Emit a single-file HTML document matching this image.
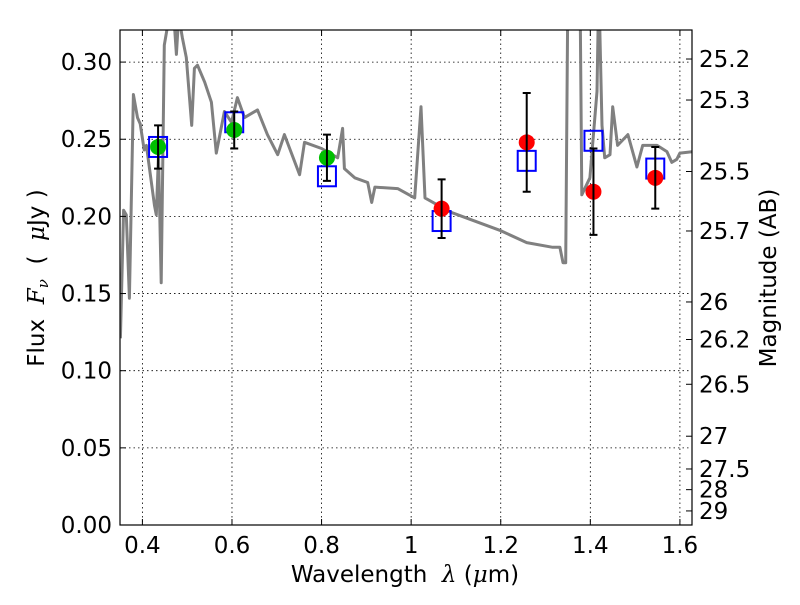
<!DOCTYPE html>
<html><head><meta charset="utf-8"><style>
body{margin:0;background:#fff}
svg text{font-family:"DejaVu Sans","Liberation Sans",sans-serif;fill:#000}
</style></head><body>
<svg id="chart" width="800" height="600" viewBox="0 0 800 600" xmlns="http://www.w3.org/2000/svg">
<g id="grid"></g>
<g id="spec"></g>
<g id="marks"></g>
<g id="axes"></g>
<text x="405" y="582" font-size="23" text-anchor="middle">Wavelength&#160;&#160;<tspan font-style="italic" font-family="DejaVu Serif">λ</tspan> (<tspan font-style="italic" font-family="DejaVu Serif">μ</tspan>m)</text>
<text transform="translate(44,278) rotate(-90)" font-size="23" text-anchor="middle">Flux&#160;&#160;<tspan font-style="italic" font-family="DejaVu Serif">F<tspan font-size="15" dy="4">ν</tspan></tspan><tspan dy="-4">&#160;&#160;(&#160;&#160;</tspan><tspan font-style="italic" font-family="DejaVu Serif">μ</tspan>Jy )</text>
<text transform="translate(776,278) rotate(-90)" font-size="23" text-anchor="middle">Magnitude (AB)</text>
</svg>
<script>
const specLam=[0.351,0.358,0.364,0.371,0.380,0.389,0.395,0.404,0.409,0.427,0.431,0.436,0.442,0.449,0.460,0.470,0.476,0.481,0.489,0.498,0.510,0.516,0.523,0.539,0.554,0.565,0.583,0.599,0.612,0.628,0.657,0.679,0.702,0.717,0.751,0.762,0.800,0.836,0.847,0.851,0.874,0.903,0.912,0.919,0.970,1.008,1.022,1.031,1.086,1.198,1.258,1.316,1.332,1.339,1.345,1.350,1.377,1.381,1.399,1.415,1.419,1.426,1.432,1.444,1.450,1.461,1.484,1.504,1.517,1.549,1.571,1.582,1.593,1.600,1.629];
const specFlux=[0.121,0.204,0.201,0.147,0.279,0.264,0.260,0.243,0.246,0.207,0.201,0.240,0.157,0.311,0.330,0.330,0.305,0.330,0.316,0.303,0.259,0.296,0.298,0.287,0.274,0.241,0.268,0.261,0.277,0.264,0.269,0.253,0.240,0.253,0.227,0.248,0.244,0.238,0.257,0.231,0.225,0.222,0.209,0.219,0.218,0.212,0.271,0.212,0.203,0.191,0.183,0.180,0.180,0.170,0.170,0.350,0.350,0.214,0.225,0.281,0.350,0.259,0.238,0.240,0.271,0.246,0.253,0.232,0.246,0.246,0.242,0.235,0.237,0.241,0.242];
const obsLam=[0.435,0.605,0.812,1.068,1.258,1.407,1.545];
const obsFlux=[0.245,0.256,0.238,0.205,0.248,0.216,0.225];
const obsErr=[0.014,0.012,0.015,0.019,0.032,0.028,0.020];
const obsColor=['#00bf00','#00bf00','#00bf00','#ff0000','#ff0000','#ff0000','#ff0000'];
const modelFlux=[0.245,0.261,0.226,0.197,0.236,0.249,0.231];
const xTicks=[0.4,0.6,0.8,1,1.2,1.4,1.6];
const xTickLabels=['0.4','0.6','0.8','1','1.2','1.4','1.6'];
const yTicks=[0,0.05,0.10,0.15,0.20,0.25,0.30];
const yTickLabels=['0.00','0.05','0.10','0.15','0.20','0.25','0.30'];
const magTicks=[25.2,25.3,25.5,25.7,26,26.2,26.5,27,27.5,28,29];
const magTickLabels=['25.2','25.3','25.5','25.7','26','26.2','26.5','27','27.5','28','29'];

const L=120,R=692,T=30,B=525,xMin=0.35,xMax=1.627,yMin=0,yMax=0.3208;
const NS='http://www.w3.org/2000/svg';
function X(v){return L+(v-xMin)/(xMax-xMin)*(R-L);}
function Y(v){return B-(v-yMin)/(yMax-yMin)*(B-T);}
function mk(tag,at,parent){const e=document.createElementNS(NS,tag);for(const k in at)e.setAttribute(k,at[k]);parent.appendChild(e);return e;}
const grid=document.getElementById('grid'),spec=document.getElementById('spec'),marks=document.getElementById('marks'),axes=document.getElementById('axes');
const defs=mk('defs',{},document.getElementById('chart'));
const cp=mk('clipPath',{id:'clip'},defs);mk('rect',{x:L,y:T,width:R-L,height:B-T},cp);
spec.setAttribute('clip-path','url(#clip)');
xTicks.forEach((t,i)=>{
 const g=mk('line',{x1:X(t),x2:X(t),y1:T,y2:B,stroke:'#000','stroke-width':0.8,'stroke-dasharray':'1.5,3'},grid);
 
 
 mk('line',{x1:X(t),x2:X(t),y1:B,y2:B-6,stroke:'#000'},axes);
 mk('line',{x1:X(t),x2:X(t),y1:T,y2:T+6,stroke:'#000'},axes);
 const tx=mk('text',{x:X(t),y:B+28,'font-size':23,'text-anchor':'middle'},axes);tx.textContent=xTickLabels[i];
 
 
});
yTicks.forEach((t,i)=>{
 const g=mk('line',{x1:L,x2:R,y1:Y(t),y2:Y(t),stroke:'#000','stroke-width':0.8,'stroke-dasharray':'1.5,3'},grid);
 
 
 mk('line',{x1:L,x2:L+6,y1:Y(t),y2:Y(t),stroke:'#000'},axes);
 const tx=mk('text',{x:L-8,y:Y(t)+8,'font-size':23,'text-anchor':'end'},axes);tx.textContent=yTickLabels[i];
 
 
});
magTicks.forEach((m,i)=>{
 const f=Math.pow(10,(23.9-m)/2.5);const y=Y(f);
 mk('line',{x1:R,x2:R-6,y1:y,y2:y,stroke:'#000'},axes);
 const tx=mk('text',{x:R+7,y:y+8,'font-size':23},axes);tx.textContent=magTickLabels[i];
 
 
});
const pts=specLam.map((l,i)=>X(l).toFixed(1)+','+Y(specFlux[i]).toFixed(1)).join(' ');
const pl=mk('polyline',{points:pts,fill:'none',stroke:'#808080','stroke-width':3,'stroke-linejoin':'round'},spec);


obsLam.forEach((l,i)=>{
 const x=X(l);
 const bx=mk('rect',{x:x-9,y:Y(modelFlux[i])-10,width:18,height:20,fill:'none',stroke:'#0000ff','stroke-width':2},marks);
 
 
 const c=mk('circle',{cx:x,cy:Y(obsFlux[i]),r:8,fill:obsColor[i]},marks);
 
 
 const y1=Y(obsFlux[i]+obsErr[i]),y2=Y(obsFlux[i]-obsErr[i]);
 const eb=mk('path',{d:`M${x},${y1}V${y2}M${x-4},${y1}H${x+4}M${x-4},${y2}H${x+4}`,stroke:'#000','stroke-width':2,fill:'none'},marks);
 
 
});
const fr=mk('rect',{x:L,y:T,width:R-L,height:B-T,fill:'none',stroke:'#000','stroke-width':1.2},axes);


</script>
</body></html>
